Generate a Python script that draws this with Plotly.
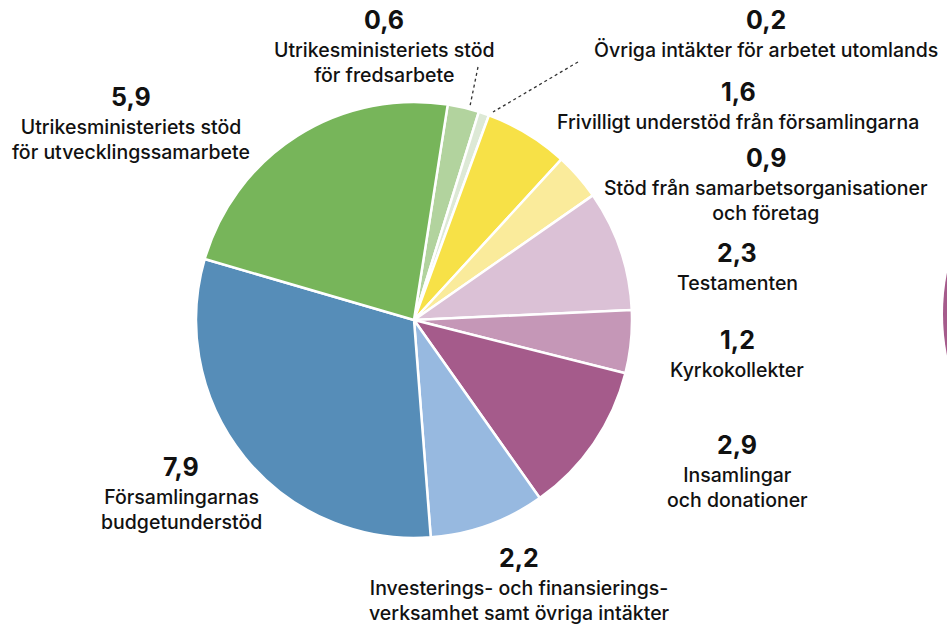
import plotly.graph_objects as go

labels = [
    "Utrikesministeriets stöd<br>för fredsarbete",
    "Övriga intäkter för arbetet utomlands",
    "Frivilligt understöd från församlingarna",
    "Stöd från samarbetsorganisationer<br>och företag",
    "Testamenten",
    "Kyrkokollekter",
    "Insamlingar<br>och donationer",
    "Investerings- och finansierings-<br>verksamhet samt övriga intäkter",
    "Församlingarnas<br>budgetunderstöd",
    "Utrikesministeriets stöd<br>för utvecklingssamarbete",
]
values = [0.6, 0.2, 1.6, 0.9, 2.3, 1.2, 2.9, 2.2, 7.9, 5.9]
value_text = ["0,6", "0,2", "1,6", "0,9", "2,3", "1,2", "2,9", "2,2", "7,9", "5,9"]
colors = ["#b2d39e", "#dde9d6", "#f7e147", "#faeb9b", "#dbc1d6",
          "#c597b7", "#a55b8b", "#97b9e0", "#568db8", "#77b55a"]

W, H = 947, 624
cx, cy, R = 414, 320, 218

# label anchor positions (pixel centres of number line)
label_pos = [(384, 20), (766, 20), (738, 92), (766, 158), (737, 253),
             (737, 340), (737, 445), (519, 558), (181, 467), (131, 97)]

fig = go.Figure()
fig.add_trace(go.Pie(
    labels=[l.replace("<br>", " ") for l in labels],
    values=values,
    sort=False,
    direction="clockwise",
    rotation=8.9,
    marker=dict(colors=colors, line=dict(color="white", width=2.5)),
    textinfo="none",
    hoverinfo="label+value",
    showlegend=False,
    domain=dict(x=[(cx - R) / W, (cx + R) / W],
                y=[(H - cy - R) / H, (H - cy + R) / H]),
))

font_num = dict(family="Inter, Lato, sans-serif", size=25, color="#111111", weight=700)
font_lab = dict(family="Inter, Lato, sans-serif", size=19.5, color="#111111", weight=500)

for (px, py), vt, lab in zip(label_pos, value_text, labels):
    fig.add_annotation(x=px / W, y=1 - py / H, xref="paper", yref="paper",
                       text=vt, showarrow=False, font=font_num,
                       xanchor="center", yanchor="middle")
    fig.add_annotation(x=px / W, y=1 - (py + 16) / H, xref="paper", yref="paper",
                       text=lab, showarrow=False, font=font_lab,
                       xanchor="center", yanchor="top", align="center")

# dotted leader lines
for (x0, y0, x1, y1) in [(478, 67, 470, 106), (578, 62, 493, 112)]:
    fig.add_shape(type="line", xref="paper", yref="paper",
                  x0=x0 / W, y0=1 - y0 / H, x1=x1 / W, y1=1 - y1 / H,
                  line=dict(color="#333333", width=1.3, dash="dot"))

# edge of neighbouring pie at the right border
ncx, ncy, nR = 943 + 218, 314, 218
fig.add_shape(type="circle", xref="paper", yref="paper",
              x0=(ncx - nR) / W, x1=(ncx + nR) / W,
              y0=1 - (ncy + nR) / H, y1=1 - (ncy - nR) / H,
              fillcolor="#a55b8b", line=dict(width=0), layer="below")

fig.update_layout(width=W, height=H, margin=dict(l=0, r=0, t=0, b=0),
                  paper_bgcolor="white", plot_bgcolor="white")
fig.write_html("out.html")
